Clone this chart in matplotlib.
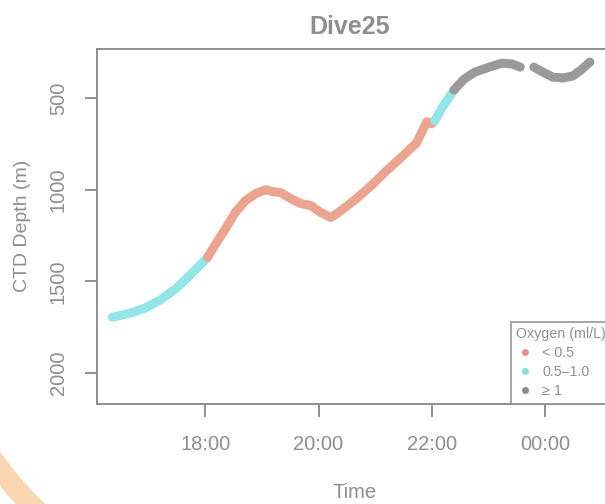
import matplotlib
matplotlib.use("Agg")
import matplotlib.pyplot as plt
from matplotlib.lines import Line2D
from matplotlib.patches import Wedge
from matplotlib.ticker import FuncFormatter

# time in hours (past midnight continues as 24+), depth in metres
low_t1 = [16.36, 16.67, 16.93, 17.20, 17.47, 17.73, 18.04]
low_d1 = [1696, 1674, 1647, 1603, 1543, 1467, 1370]

anox_t = [18.04, 18.18, 18.36, 18.53, 18.71, 18.89, 19.07, 19.19, 19.33, 19.51,
          19.69, 19.87, 20.04, 20.22, 20.40, 20.67, 20.93, 21.20, 21.47, 21.73,
          21.91, 22.00, 22.05]
anox_d = [1370, 1299, 1212, 1125, 1060, 1022, 1000, 1011, 1016, 1049,
          1076, 1087, 1125, 1152, 1114, 1049, 978, 897, 821, 745,
          630, 641, 625]

low_t2 = [22.05, 22.18, 22.39]
low_d2 = [625, 554, 457]

high_t1 = [22.39, 22.57, 22.76, 23.01, 23.24, 23.42, 23.56]
high_d1 = [457, 397, 359, 332, 310, 315, 332]
high_t2 = [23.80, 23.96, 24.13, 24.31, 24.49, 24.63, 24.79]
high_d2 = [332, 359, 386, 391, 380, 348, 304]

x_ticks = [18, 20, 22, 24]
y_ticks = [500, 1000, 1500, 2000]

c_low = "#eaa490"
c_mid = "#92e6e8"
c_high = "#9a9a9a"
grey = "#8e8e8e"

plt.rcParams["font.family"] = ["Liberation Sans", "DejaVu Sans"]

fig = plt.figure(figsize=(6.05, 5.04), dpi=100)
fig.patch.set_facecolor("white")

# decorative peach arc in the lower left corner
bg = fig.add_axes([0, 0, 1, 1], zorder=-1)
bg.set_xlim(0, 605)
bg.set_ylim(504, 0)
bg.axis("off")
bg.add_patch(Wedge((300, 240), 388, 120, 160, width=21, color="#fad6b3", lw=0))

ax = fig.add_axes([97 / 605, 100 / 504, 515 / 605, 355 / 504])
ax.set_facecolor("none")

kw = dict(lw=6.5, solid_capstyle="round", solid_joinstyle="round")
ax.plot(low_t1, low_d1, color=c_mid, **kw)
ax.plot(anox_t, anox_d, color=c_low, **kw)
ax.plot(low_t2, low_d2, color=c_mid, **kw)
ax.plot(high_t1, high_d1, color=c_high, **kw)
ax.plot(high_t2, high_d2, color=c_high, **kw)

ax.set_xlim(16.09, 25.18)
ax.set_ylim(2169, 233)

ax.set_xticks(x_ticks)
ax.xaxis.set_major_formatter(FuncFormatter(lambda h, p: f"{int(h) % 24:02d}:00"))
ax.set_yticks(y_ticks)
ax.set_yticklabels([str(v) for v in y_ticks], rotation=90, va="center")

for s in ax.spines.values():
    s.set_color(grey)
    s.set_linewidth(1.4)
ax.tick_params(colors=grey, labelcolor=grey, labelsize=14.5, length=9,
               width=1.4)
ax.tick_params(axis="x", pad=13)
ax.tick_params(axis="y", pad=12)

fig.text(350 / 605, 1 - 27 / 504, "Dive25", ha="center", va="center",
         fontsize=18, fontweight="bold", color=grey)
fig.text(355 / 605, 1 - 493 / 504, "Time", ha="center", va="center",
         fontsize=14.5, color=grey)
fig.text(23 / 605, 1 - 226 / 504, "CTD Depth (m)", ha="center", va="center",
         rotation=90, fontsize=14, color=grey)

handles = [Line2D([], [], ls="", marker="o", ms=4, color=c) for c in
           ["#f28c8c", "#7fe0dc", "#8c8c8c"]]
leg = ax.legend(handles, ["< 0.5", "0.5\u20131.0", "\u2265 1"],
                title="Oxygen (ml/L)", loc="lower right",
                bbox_to_anchor=(1, 0), borderaxespad=0, fontsize=10.3,
                title_fontsize=10.3, frameon=True, fancybox=False,
                handlelength=1.2, handletextpad=0.6, labelspacing=0.35,
                borderpad=0.4, alignment="left")
leg.get_frame().set_edgecolor(grey)
leg.get_frame().set_linewidth(1.4)
leg.get_title().set_color(grey)
for t in leg.get_texts():
    t.set_color(grey)

fig.savefig("out.png", dpi=100)
